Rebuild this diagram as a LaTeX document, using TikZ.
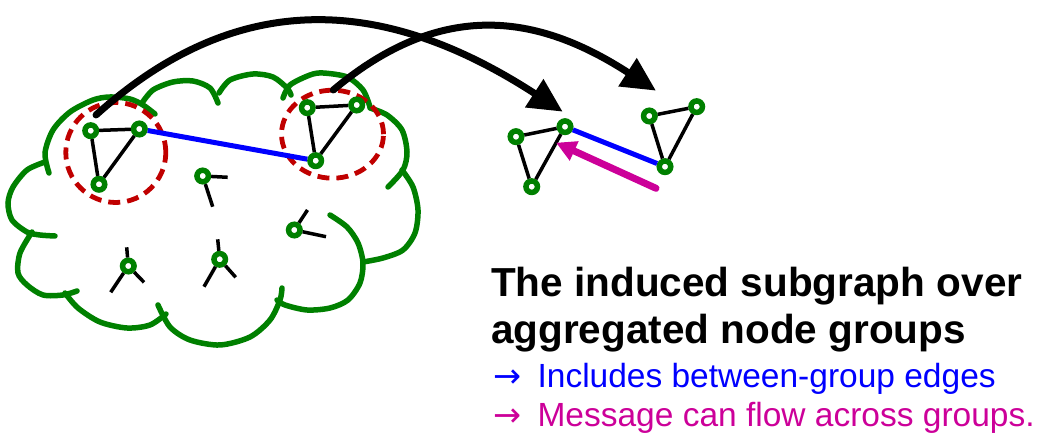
\documentclass[tikz,border=0pt]{standalone}
\usepackage{fontspec}
\setmainfont{Liberation Sans}
\newfontfamily\arrowfont{DejaVu Sans}
\usepackage{xcolor}
\usepackage{tikz}
\usetikzlibrary{arrows.meta,positioning,calc}
\definecolor{cloudgreen}{RGB}{0,128,0}
\definecolor{groupred}{RGB}{192,0,0}
\definecolor{msgpink}{RGB}{204,0,153}

\begin{document}
\begin{tikzpicture}[x=1pt,y=1pt,
    cloudline/.style={draw=cloudgreen, line width=5.5pt, line cap=round},
    gnode/.style={circle, draw=cloudgreen, fill=white, line width=5.5pt, inner sep=0pt, minimum size=11.5pt},
    edge/.style={line width=3.5pt},
    groupring/.style={draw=groupred, line width=4.8pt, dash pattern=on 12pt off 7pt},
    jump/.style={line width=7pt, line cap=round, -{Triangle[length=34pt,width=32pt]}},
    txt/.style={anchor=base west, inner sep=0pt}]
    \useasboundingbox (0,0) rectangle (1039,441);

    % Cloud
    \draw[cloudline] plot[smooth] coordinates {(49,268) (45,288) (53,311) (70,329) (93,341) (110,344) (130,342) (143,336) (155,327)};
    \draw[cloudline] plot[smooth] coordinates {(142,338) (153,351) (173,359) (193,360) (210,353) (218,338)};
    \draw[cloudline] plot[smooth] coordinates {(219,348) (230,361) (253,367) (273,364) (287,353) (291,346)};
    \draw[cloudline] plot[smooth] coordinates {(283,343) (290,356) (310,366) (323,368) (347,364) (363,351) (370,334)};
    \draw[cloudline] plot[smooth] coordinates {(370,333) (387,326) (402,311) (407,289) (403,271) (388,254)};
    \draw[cloudline] plot[smooth] coordinates {(402,271) (413,254) (418,231) (415,208) (403,191) (383,183) (363,179)};
    \draw[cloudline] plot[smooth] coordinates {(330,226) (347,214) (358,198) (363,178) (360,158) (348,141) (330,133) (307,131) (285,136) (277,141)};
    \draw[cloudline] plot[smooth] coordinates {(282,153) (280,141) (270,121) (250,104) (220,96) (190,101) (170,114) (158,136)};
    \draw[cloudline] plot[smooth] coordinates {(65,148) (78,133) (100,119) (127,113) (150,116) (166,127)};
    \draw[cloudline] plot[smooth] coordinates {(32,209) (20,188) (18,168) (27,156) (43,146) (63,146) (77,150)};
    \draw[cloudline] plot[smooth] coordinates {(45,279) (27,271) (13,254) (8,238) (12,221) (27,209) (40,206) (55,205)};

    % Groups
    \draw[groupring] (115.8,288.5) circle (50);
    \draw[groupring] (332.5,306.8) ellipse (51 and 44);

    % Nodes
    \node[gnode] (a1) at (90.7,310.3) {};
    \node[gnode] (a2) at (139.3,312) {};
    \node[gnode] (a3) at (99,256.7) {};
    \node[gnode] (b1) at (307.3,333.3) {};
    \node[gnode] (b2) at (356.7,336) {};
    \node[gnode] (b3) at (315.7,280.3) {};
    \node[gnode] (c1) at (202.7,265) {};
    \node[gnode] (c2) at (294.3,211) {};
    \node[gnode] (c3) at (128.3,175) {};
    \node[gnode] (c4) at (219.7,181.7) {};
    \node[gnode] (d1) at (516,304.3) {};
    \node[gnode] (d2) at (565,314.3) {};
    \node[gnode] (d3) at (531.7,254.3) {};
    \node[gnode] (e1) at (649.3,325) {};
    \node[gnode] (e2) at (696.7,334.3) {};
    \node[gnode] (e3) at (665,274.3) {};

    % Free ends of the loose edges
    \coordinate (c1a) at (227.7,263.7);
    \coordinate (c1b) at (212.7,234.3);
    \coordinate (c2a) at (307.5,231);
    \coordinate (c2b) at (326,204.3);
    \coordinate (c3a) at (126.7,193.7);
    \coordinate (c3b) at (110.7,148.7);
    \coordinate (c3c) at (144,158.7);
    \coordinate (c4a) at (217.7,201.7);
    \coordinate (c4b) at (204,154.3);
    \coordinate (c4c) at (235.7,163.7);

    % Edges
    \draw[edge] (a1) -- (a2) -- (a3) -- (a1);
    \draw[edge] (b1) -- (b2) -- (b3) -- (b1);
    \draw[edge] (d1) -- (d2) -- (d3) -- (d1);
    \draw[edge] (e1) -- (e2) -- (e3) -- (e1);
    \draw[edge] (c1) -- (c1a) (c1) -- (c1b);
    \draw[edge] (c2) -- (c2a) (c2) -- (c2b);
    \draw[edge] (c3) -- (c3a) (c3) -- (c3b) (c3) -- (c3c);
    \draw[edge] (c4) -- (c4a) (c4) -- (c4b) (c4) -- (c4c);

    % Between-group edges
    \draw[blue, line width=5pt] (a2) -- (b3);
    \draw[blue, line width=5pt] (d2) -- (e3);

    % Aggregation arrows
    \coordinate (s1) at (96,326);
    \coordinate (t1) at (562.7,329.3);
    \coordinate (s2) at (333.3,351);
    \coordinate (t2) at (656,350.3);
    \draw[jump] (s1) to[out=42,in=147,looseness=1.1] (t1);
    \draw[jump] (s2) to[out=40,in=147,looseness=1.12] (t2);

    % Message flow
    \coordinate (m1) at (656,252.7);
    \coordinate (m2) at (556,298.3);
    \draw[msgpink, line width=7pt, line cap=round, -{Triangle[length=20pt,width=20pt]}] (m1) -- (m2);

    % Labels
    \node[txt, font=\bfseries\fontsize{40.5}{48}\selectfont] (title1) at (491,144.3) {The induced subgraph over};
    \node[txt, font=\bfseries\fontsize{40.5}{48}\selectfont] (title2) at (491,97.7) {aggregated node groups};
    \node[txt, text=blue, font=\fontsize{33.5}{38}\selectfont] (note1) at (493,53.3) {{\arrowfont →} \hspace{7pt}Includes between-group edges};
    \node[txt, text=msgpink, font=\fontsize{33.5}{38}\selectfont] (note2) at (493,14.3) {{\arrowfont →} \hspace{7pt}Message can flow across groups.};
\end{tikzpicture}
\end{document}
